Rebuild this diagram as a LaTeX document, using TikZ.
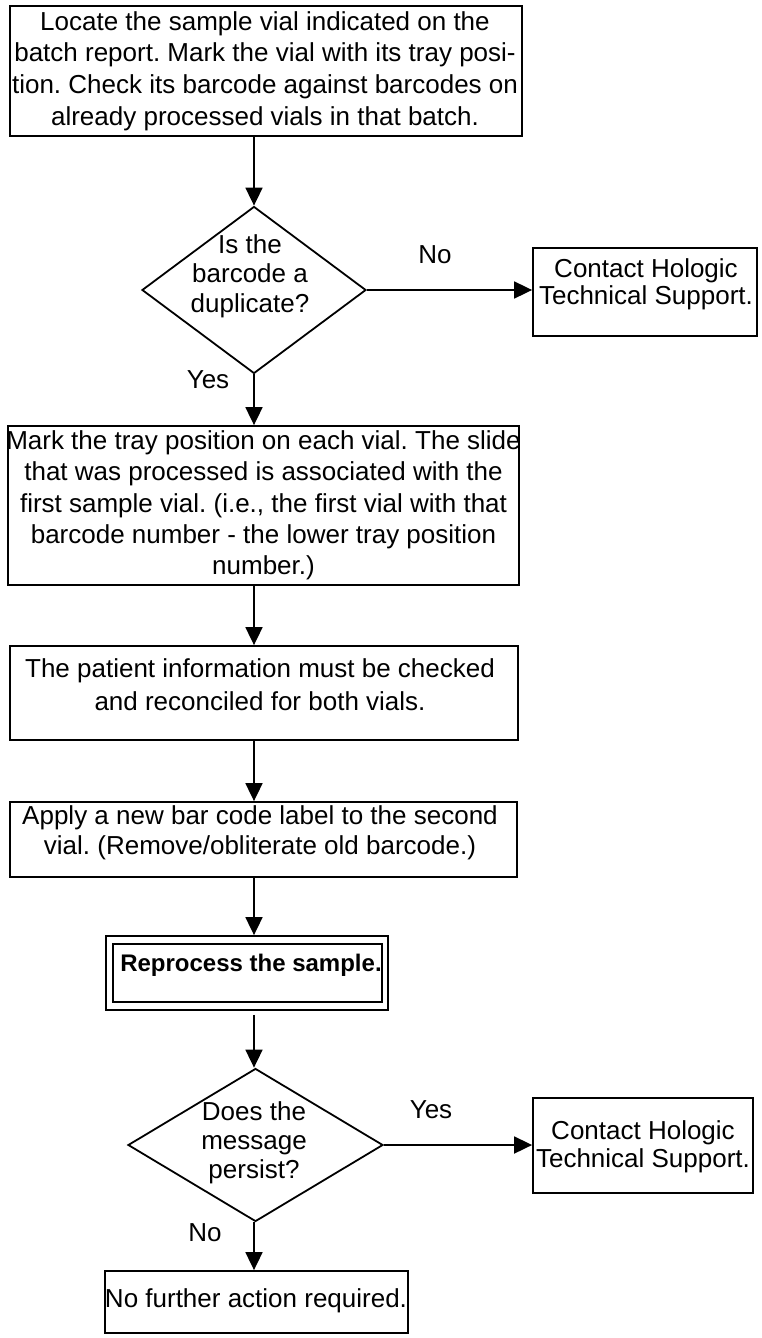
\documentclass[tikz,border=0pt]{standalone}
\usepackage{fontspec}
\setmainfont{Liberation Sans}
\usetikzlibrary{shapes.geometric,arrows.meta}
\frenchspacing
\tikzset{
  stepbox/.style={draw,line width=1.8pt,rectangle,inner sep=0pt},
  decbox/.style={draw,line width=1.8pt,diamond,inner sep=0pt,aspect=1},
  txt/.style={inner sep=0pt,align=center,font=\fontsize{26}{31}\selectfont},
  lbl/.style={inner sep=0pt,font=\fontsize{26}{31}\selectfont},
  arr/.style={line width=1.8pt,-{Triangle[length=18pt,width=17pt]}},
}
\begin{document}
\begin{tikzpicture}[x=1pt,y=-1pt]
\useasboundingbox (0,0) rectangle (761,1338);
% boxes
\node[stepbox,minimum width=512pt,minimum height=130pt] (b1) at (266,71) {};
\node[decbox,minimum width=224pt,minimum height=167pt] (d1) at (254,290) {};
\node[stepbox,minimum width=224pt,minimum height=88pt] (r1) at (645,292) {};
\node[stepbox,minimum width=511pt,minimum height=159pt] (b2) at (263.5,505.5) {};
\node[stepbox,minimum width=508pt,minimum height=94pt] (b3) at (264,693) {};
\node[stepbox,minimum width=507pt,minimum height=75pt] (b4) at (263.5,839.5) {};
\node[stepbox,minimum width=282pt,minimum height=74pt] (rp) at (247,973) {};
\node[stepbox,minimum width=269pt,minimum height=58pt] (rpi) at (247.5,973) {};
\node[decbox,minimum width=255pt,minimum height=153pt] (d2) at (255.5,1145) {};
\node[stepbox,minimum width=220pt,minimum height=95pt] (r2) at (643,1145.5) {};
\node[stepbox,minimum width=303pt,minimum height=62pt] (b5) at (256.5,1302) {};
% texts
\node[txt,font=\fontsize{26}{31.7}\selectfont] (t1) at (265,71) {Locate the sample vial indicated on the\\batch report. Mark the vial with its tray posi-\\tion. Check its barcode against barcodes on\\already processed vials in that batch.};
\node[txt,font=\fontsize{26}{29.5}\selectfont] (td1) at (250,276) {Is the\\barcode a\\duplicate?};
\node[txt,font=\fontsize{26}{27}\selectfont] (tr1) at (646,284) {Contact Hologic\\Technical Support.};
\node[txt,font=\fontsize{26}{31.25}\selectfont] (t2) at (263.5,505.5) {Mark the tray position on each vial. The slide\\that was processed is associated with the\\first sample vial. (i.e., the first vial with that\\barcode number - the lower tray position\\number.)};
\node[txt,font=\fontsize{26}{33}\selectfont] (t3) at (260,685) {The patient information must be checked\\and reconciled for both vials.};
\node[txt,font=\fontsize{26}{30}\selectfont] (t4) at (260,833) {Apply a new bar code label to the second\\vial. (Remove/obliterate old barcode.)};
\node[txt,font=\fontsize{24}{29}\selectfont\bfseries] (trp) at (251,965) {Reprocess the sample.};
\node[txt,font=\fontsize{26}{29}\selectfont] (td2) at (254,1143) {Does the\\message\\persist?};
\node[txt,font=\fontsize{26}{28}\selectfont] (tr2) at (643,1147) {Contact Hologic\\Technical Support.};
\node[txt] (t5) at (256,1301) {No further action required.};
% labels
\node[lbl] (no1) at (435,255) {No};
\node[lbl] (yes1) at (208,380) {Yes};
\node[lbl] (yes2) at (431,1110) {Yes};
\node[lbl] (no2) at (205,1233) {No};
% connectors
\draw[arr] (b1.south -| d1.north) -- (d1.north);
\draw[arr] (d1.east) -- (r1.west |- d1.east);
\draw[arr] (d1.south) -- (b2.north -| d1.south);
\draw[arr] (b2.south -| d1.south) -- (b3.north -| d1.south);
\draw[arr] (b3.south -| d1.south) -- (b4.north -| d1.south);
\draw[arr] (b4.south -| d1.south) -- (rp.north -| d1.south);
\draw[arr,shorten <=4pt] (rp.south -| d1.south) -- (d2.north -| d1.south);
\draw[arr] (d2.east) -- (r2.west |- d2.east);
\draw[arr] (d2.south -| d1.south) -- (b5.north -| d1.south);
\end{tikzpicture}
\end{document}
